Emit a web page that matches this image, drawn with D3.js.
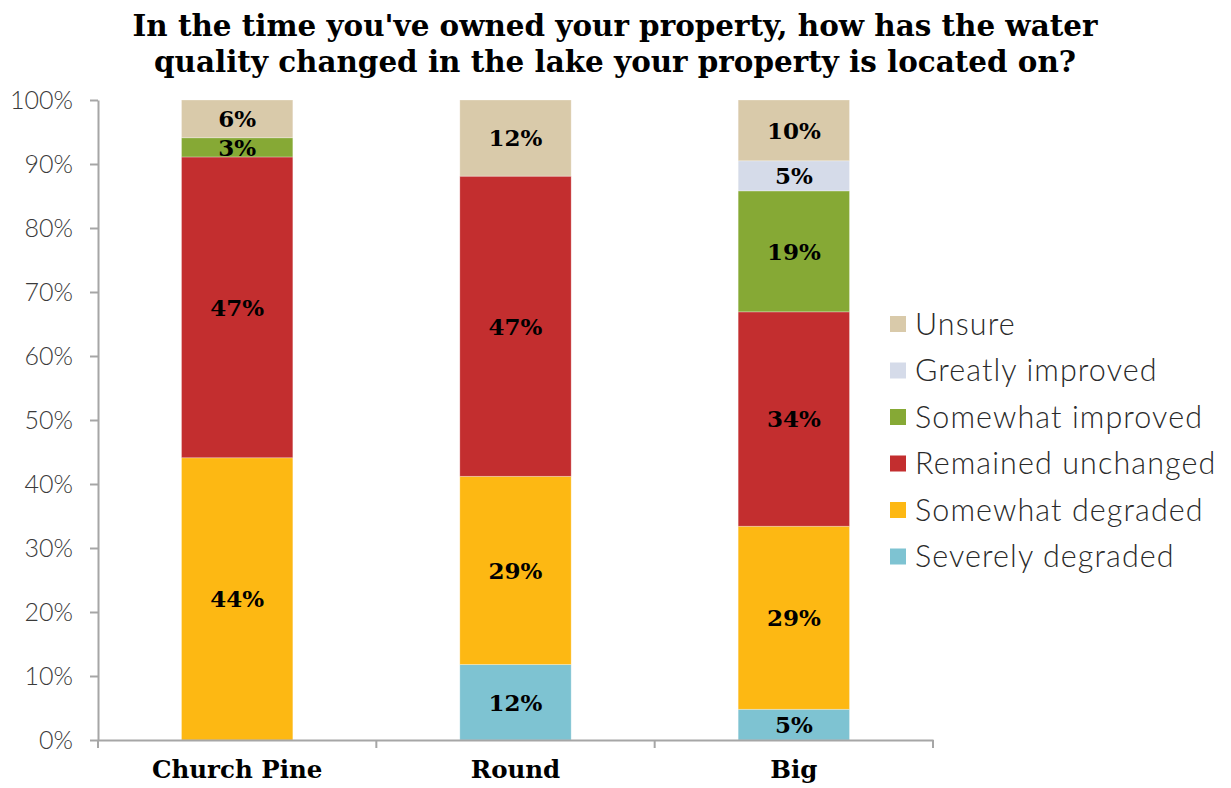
<!DOCTYPE html>
<html>
<head>
<meta charset="utf-8">
<script src="https://cdn.jsdelivr.net/npm/d3@7"></script>
<style>
  body { margin: 0; background: #fff; }
  svg { display: block; }
</style>
</head>
<body>
<svg id="chart" width="1231" height="788"></svg>
<script>
// Lakes surveyed and the answer categories (stacked bottom to top)
const lakes = ["Church Pine", "Round", "Big"];
const responses = ["Severely degraded", "Somewhat degraded", "Remained unchanged",
                   "Somewhat improved", "Greatly improved", "Unsure"];

// Share of respondents (%) per lake, one array per answer
const severelyDegraded  = [0,    11.8, 4.8];
const somewhatDegraded  = [44.1, 29.4, 28.6];
const remainedUnchanged = [47.0, 46.9, 33.5];
const somewhatImproved  = [3.0,  0,    18.9];
const greatlyImproved   = [0,    0,    4.7];
const unsure            = [5.9,  11.9, 9.5];

const responseColors = ["#7EC3D2", "#FDB813", "#C32E2F", "#86A935", "#D5DBE9", "#D9CAAA"];
const yTickValues = [0, 10, 20, 30, 40, 50, 60, 70, 80, 90, 100];

const titleLines = [
  "In the time you've owned your property, how has the water",
  "quality changed in the lake your property is located on?"
];

const seriesValues = [severelyDegraded, somewhatDegraded, remainedUnchanged,
                      somewhatImproved, greatlyImproved, unsure];

const rows = lakes.map((lake, i) => {
  const r = { lake };
  responses.forEach((resp, k) => { r[resp] = seriesValues[k][i]; });
  return r;
});

const stack = d3.stack().keys(responses);
const layers = stack(rows);

const svg = d3.select("#chart");
const plot = { left: 98, right: 933, top: 100, bottom: 740 };

const x = d3.scaleBand()
  .domain(lakes)
  .range([plot.left, plot.right])
  .paddingInner(0.6)
  .paddingOuter(0.3);

const y = d3.scaleLinear()
  .domain([0, 100])
  .range([plot.bottom, plot.top]);

const color = d3.scaleOrdinal().domain(responses).range(responseColors);

const serif = "'DejaVu Serif', Georgia, serif";
const sans = "Lato, 'Open Sans', sans-serif";
const axisGray = "#A6A6A6";

// Title
svg.append("g")
  .selectAll("text")
  .data(titleLines)
  .join("text")
  .attr("x", 615)
  .attr("y", (d, i) => 36 + i * 36)
  .attr("text-anchor", "middle")
  .style("font-family", serif)
  .style("font-weight", "bold")
  .style("font-size", "29.4px")
  .style("fill", "#000")
  .text(d => d);

// Stacked bars
const barGroup = svg.append("g");
barGroup.selectAll("g")
  .data(layers)
  .join("g")
  .attr("fill", d => color(d.key))
  .selectAll("rect")
  .data(d => d.filter(s => s[1] - s[0] > 0))
  .join("rect")
  .attr("x", d => x(d.data.lake))
  .attr("width", x.bandwidth())
  .attr("y", d => y(d[1]))
  .attr("height", d => y(d[0]) - y(d[1]))
  .attr("stroke", "#fff")
  .attr("stroke-opacity", 0.35)
  .attr("stroke-width", 0.8);

// Value labels centred in each segment
const fmt = v => d3.format(".0f")(v) + "%";
svg.append("g")
  .selectAll("g")
  .data(layers)
  .join("g")
  .selectAll("text")
  .data(d => d.filter(s => s[1] - s[0] > 0))
  .join("text")
  .attr("x", d => x(d.data.lake) + x.bandwidth() / 2)
  .attr("y", d => y((d[0] + d[1]) / 2))
  .attr("dy", "0.36em")
  .attr("text-anchor", "middle")
  .style("font-family", serif)
  .style("font-weight", "bold")
  .style("font-size", "23px")
  .style("fill", "#000")
  .text(d => fmt(d[1] - d[0]));

// Y axis
const yAxis = svg.append("g")
  .attr("transform", `translate(${plot.left},0)`)
  .call(d3.axisLeft(y)
    .tickValues(yTickValues)
    .tickFormat(d => d + "%")
    .tickSize(8)
    .tickSizeOuter(0)
    .tickPadding(17));
yAxis.select(".domain").attr("stroke", axisGray).attr("stroke-width", 2);
yAxis.selectAll(".tick line").attr("stroke", axisGray).attr("stroke-width", 2);
yAxis.selectAll(".tick text")
  .style("font-family", sans)
  .style("font-weight", 300)
  .style("font-size", "25px")
  .style("fill", "#3a3a3a");

// X axis with category labels and ticks between categories
const xAxis = svg.append("g")
  .attr("transform", `translate(0,${plot.bottom})`)
  .call(d3.axisBottom(x).tickSize(0).tickSizeOuter(0).tickPadding(21));
xAxis.select(".domain").attr("stroke", axisGray).attr("stroke-width", 2);
xAxis.selectAll(".tick text")
  .attr("dy", "0.71em")
  .style("font-family", serif)
  .style("font-weight", "bold")
  .style("font-size", "24.5px")
  .style("fill", "#000");

const boundaries = d3.range(lakes.length + 1).map(i => x.range()[0] + i * x.step());
xAxis.selectAll("line.sep")
  .data(boundaries)
  .join("line")
  .attr("class", "sep")
  .attr("x1", d => d).attr("x2", d => d)
  .attr("y1", 0).attr("y2", 8)
  .attr("stroke", axisGray)
  .attr("stroke-width", 2);

// Legend, top to bottom in reverse stack order
const legendItems = responses.slice().reverse();
const legend = svg.append("g").attr("transform", "translate(890,316)");
const item = legend.selectAll("g")
  .data(legendItems)
  .join("g")
  .attr("transform", (d, i) => `translate(0,${i * 46.5})`);
item.append("rect")
  .attr("width", 16)
  .attr("height", 16)
  .attr("fill", d => color(d));
item.append("text")
  .attr("x", 25)
  .attr("y", 8)
  .attr("dy", "0.36em")
  .style("font-family", sans)
  .style("font-weight", 300)
  .style("font-size", "30.5px")
  .style("letter-spacing", "1.1px")
  .style("fill", "#2a2a2a")
  .text(d => d);
</script>
</body>
</html>
